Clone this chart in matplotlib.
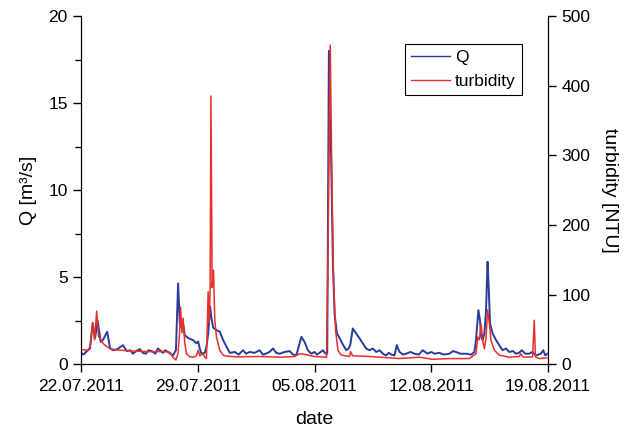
import pandas as pd
import matplotlib.pyplot as plt
import matplotlib.dates as mdates
from matplotlib.ticker import MultipleLocator

plt.rcParams['font.family'] = ['Liberation Sans', 'DejaVu Sans']

start = pd.Timestamp('2011-07-22')

# discharge Q, days since 22.07.2011 00:00
q_days = [0.00, 0.15, 0.30, 0.54, 0.70, 0.84, 1.00, 1.18, 1.32, 1.57, 1.74, 1.91, 2.15, 2.51, 2.75,
          2.95, 3.11, 3.30, 3.53, 3.70, 3.89, 4.05, 4.25, 4.45, 4.61, 4.91, 5.05, 5.21, 5.51, 5.69,
          5.82, 5.92, 6.03, 6.12, 6.22, 6.42, 6.72, 6.92, 7.02, 7.12, 7.22, 7.42, 7.52, 7.63, 7.74,
          7.81, 7.92, 8.12, 8.32, 8.52, 8.72, 8.92, 9.22, 9.45, 9.71, 9.90, 10.11, 10.41, 10.71,
          10.90, 11.07, 11.30, 11.51, 11.70, 11.91, 12.21, 12.51, 12.70, 12.91, 13.21, 13.40,
          13.60, 13.81, 14.00, 14.14, 14.30, 14.50, 14.66, 14.76, 14.86, 15.00, 15.10, 15.20,
          15.34, 15.50, 15.66, 15.90, 16.04, 16.14, 16.29, 16.50, 16.70, 16.89, 17.09, 17.30,
          17.49, 17.70, 17.90, 18.10, 18.29, 18.45, 18.61, 18.79, 18.93, 19.09, 19.30, 19.49,
          19.75, 19.99, 20.25, 20.48, 20.77, 21.00, 21.19, 21.48, 21.75, 22.08, 22.30, 22.48,
          22.75, 23.08, 23.40, 23.58, 23.68, 23.82, 23.92, 23.98, 24.08, 24.18, 24.28, 24.37,
          24.43, 24.52, 24.67, 24.88, 25.07, 25.27, 25.47, 25.67, 25.90, 26.07, 26.25, 26.43,
          26.63, 26.87, 27.05, 27.27, 27.57, 27.71, 27.83, 27.95]
q_vals = [0.65, 0.55, 0.7, 0.9, 2.37, 1.5, 2.49, 1.28, 1.4, 1.86, 0.92, 0.8, 0.85, 1.09, 0.75,
          0.8, 0.6, 0.75, 0.86, 0.65, 0.6, 0.8, 0.75, 0.6, 0.9, 0.65, 0.8, 0.7, 0.5, 0.8,
          4.64, 2.35, 2.1, 2.3, 1.67, 1.5, 1.38, 1.2, 1.3, 0.9, 0.6, 0.65, 1.0, 1.8, 3.3,
          2.7, 2.1, 1.95, 1.86, 1.38, 1.0, 0.65, 0.7, 0.55, 0.8, 0.6, 0.7, 0.65, 0.8,
          0.55, 0.6, 0.7, 0.9, 0.65, 0.6, 0.7, 0.75, 0.55, 0.52, 1.57, 1.28,
          0.8, 0.6, 0.7, 0.55, 0.65, 0.8, 0.6, 0.6, 18.0, 11.5, 5.8, 2.9,
          1.78, 1.5, 1.19, 0.8, 0.9, 1.1, 2.05, 1.75, 1.48, 1.2, 0.9, 0.8,
          0.9, 0.7, 0.8, 0.6, 0.5, 0.65, 0.55, 0.5, 1.09, 0.7, 0.55, 0.6,
          0.7, 0.6, 0.55, 0.8, 0.6, 0.7, 0.6, 0.65, 0.55, 0.6, 0.75, 0.7,
          0.6, 0.6, 0.55, 0.7, 1.4, 3.1, 2.5, 1.6, 1.38, 1.77, 3.1, 5.88,
          4.64, 2.34, 1.77, 1.38, 1.09, 0.8, 0.9, 0.7, 0.75, 0.6, 0.65, 0.8,
          0.6, 0.6, 0.7, 0.5, 0.6, 0.8, 0.5, 0.6]

# turbidity, days since 22.07.2011 00:00
t_days = [0.00, 0.42, 0.54, 0.70, 0.81, 0.94, 1.05, 1.18, 1.32, 1.44, 1.74, 2.33, 2.93, 4.13,
          5.03, 5.33, 5.51, 5.69, 5.81, 5.90, 5.97, 6.05, 6.12, 6.22, 6.32, 6.52, 6.76, 6.92,
          7.02, 7.12, 7.32, 7.42, 7.52, 7.62, 7.69, 7.74, 7.79, 7.86, 7.94, 8.02, 8.12, 8.32,
          8.52, 8.72, 9.32, 10.71, 11.91, 12.81, 13.11, 13.40, 14.00, 14.72, 14.80, 14.94,
          15.04, 15.14, 15.26, 15.40, 15.60, 16.10, 16.16, 16.28, 17.30, 19.09, 20.29, 21.07,
          22.08, 23.28, 23.68, 23.78, 23.88, 23.98, 24.08, 24.18, 24.28, 24.37, 24.48, 24.58,
          24.78, 25.07, 25.67, 26.27, 26.37, 26.51, 27.07, 27.17, 27.24, 27.47, 27.95]
t_vals = [21, 20, 25, 59, 35, 76, 40, 35, 30, 27, 22, 20, 19, 18,
          18, 17, 10, 6, 15, 40, 82, 45, 66, 30, 15, 10.5, 10, 12,
          20, 12, 15, 10, 8, 104, 60, 110, 385, 110, 135, 63, 39, 20,
          13, 11.5, 10.5, 11, 10, 11, 15, 14, 11, 10, 150, 458,
          264, 120, 49, 20, 13, 11, 18, 12, 11, 8, 10, 7,
          8, 8, 15, 39, 35, 58, 34, 22, 37, 78, 58, 34,
          20, 13, 10, 11, 15, 10, 10.5, 63, 10.5, 8, 9]

q_time = start + pd.to_timedelta(q_days, unit='D')
t_time = start + pd.to_timedelta(t_days, unit='D')
tick_dates = pd.date_range('2011-07-22', periods=5, freq='7D')

fig = plt.figure(figsize=(6.3, 4.33), dpi=100)
ax = fig.add_axes([0.1286, 0.159, 0.7414, 0.804])
ax2 = ax.twinx()

l1, = ax.plot(q_time, q_vals, color='#2a3b9e', lw=1.4, label='Q')
l2, = ax2.plot(t_time, t_vals, color='#e8302a', lw=1.1, label='turbidity')

ax.set_xlim(tick_dates[0], tick_dates[-1])
ax.set_ylim(0, 20)
ax2.set_ylim(0, 500)
ax.set_xticks(tick_dates)
ax.xaxis.set_major_formatter(mdates.DateFormatter('%d.%m.%Y'))
ax.yaxis.set_major_locator(MultipleLocator(5))
ax.yaxis.set_minor_locator(MultipleLocator(2.5))
ax2.yaxis.set_major_locator(MultipleLocator(100))

for a in (ax, ax2):
    a.spines['top'].set_visible(False)
    a.tick_params(which='major', direction='out', length=6, width=1, labelsize=12.5)
    a.tick_params(which='minor', direction='out', length=4, width=1)
ax.tick_params(axis='x', pad=5)

ax.set_xlabel('date', fontsize=14, labelpad=12)
ax.set_ylabel('Q [m³/s]', fontsize=14, labelpad=8)
ax2.set_ylabel('turbidity [NTU]', fontsize=14, rotation=270, va='bottom', labelpad=8)

leg = ax.legend(handles=[l1, l2], loc='upper right', bbox_to_anchor=(0.944, 0.92),
                borderaxespad=0, fancybox=False, framealpha=1, edgecolor='black',
                fontsize=12.5, handlelength=2.25, handletextpad=0.3, borderpad=0.35,
                labelspacing=0.5)
leg.get_frame().set_linewidth(0.8)
for h in leg.get_lines():
    h.set_linewidth(1.0)

plt.savefig('out.png', dpi=100)
